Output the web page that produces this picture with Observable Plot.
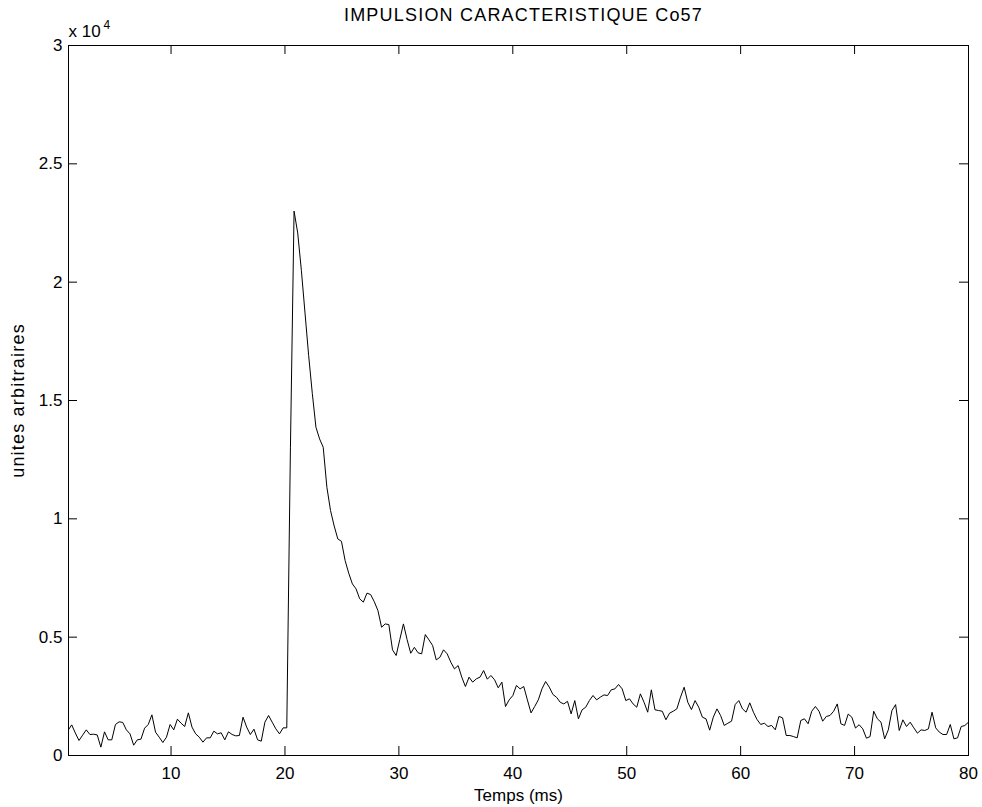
<!DOCTYPE html>
<html><head><meta charset="utf-8">
<script src="https://cdn.jsdelivr.net/npm/d3@7"></script>
<script src="https://cdn.jsdelivr.net/npm/@observablehq/plot@0.6"></script>
<style>
html,body{margin:0;padding:0;background:#fff;}
</style>
</head><body><div id="chart"></div>
<script>
const title = "IMPULSION CARACTERISTIQUE Co57";
const xLabel = "Temps (ms)";
const yLabel = "unites arbitraires";
const yExponentBase = "x 10";
const yExponent = "4";
const xTicks = [10, 20, 30, 40, 50, 60, 70, 80];
const xTickLabels = ["10", "20", "30", "40", "50", "60", "70", "80"];
const yTicks = [0, 5000, 10000, 15000, 20000, 25000, 30000];
const yTickLabels = ["0", "0.5", "1", "1.5", "2", "2.5", "3"];
const sampleStep = 0.32;   // ms between samples
const firstSample = 3;     // index of first listed sample
const counts = [
  1060, 1295, 950, 634, 860, 1084, 887, 900, 870, 352,
  1000, 662, 662, 1310, 1422, 1400, 1084, 915, 436, 662,
  690, 1155, 1310, 1718, 986, 775, 549, 775, 1310, 1084,
  1535, 1366, 1225, 1802, 1200, 915, 775, 563, 746, 746,
  1028, 915, 960, 662, 1000, 887, 830, 845, 1620, 1200,
  887, 1112, 662, 605, 1408, 1690, 1408, 1126, 915, 1168,
  1168,
  13000, 23000, 22080, 20500, 18700, 16900, 15300, 13870, 13376, 13024,
  11334, 10350, 9700, 9150, 9050, 8240, 7700, 7250, 7040, 6620,
  6480, 6860, 6800, 6500, 6125, 5420, 5560, 5530, 4465, 4225,
  4900,
  5560, 4900, 4320, 4570, 4340, 4295, 5110, 4885, 4650, 4040,
  4150, 4465, 4295, 3940, 3660, 3800, 3310, 2915, 3310, 3100,
  3240, 3310, 3590, 3225, 3380, 3200, 2860, 3100, 2070, 2350,
  2530, 2960, 2815, 2915, 2350, 1800, 2070, 2350, 2815, 3125,
  2890, 2580, 2460, 2250,
  2180, 2290, 1760, 2320, 1550, 1930, 2040, 2320, 2535, 2350,
  2465, 2560, 2535, 2775, 2815, 3000, 2815, 2320, 2395, 2180,
  2040, 2605, 2250, 1830, 2775, 1930, 1900, 1870, 1510, 1790,
  1870, 1970, 2465, 2885, 2250, 1940, 2320, 2040, 1620, 1550,
  1070,
  1620, 1970, 1690, 1270, 1365, 1450, 2155, 2320, 1970, 1830,
  2225, 1830, 1520, 1310, 1365, 1225, 1270, 1085, 1650, 1590,
  845, 845, 800, 746, 1480, 1550, 1340, 1870, 2070, 1870,
  1450, 1650, 1690, 1870, 2180, 1340, 1270, 1750, 1620, 1160,
  1300,
  1126, 732, 800, 1870, 1550, 1408, 704, 1084, 1900, 2150,
  1056, 1506, 1225, 1408, 1168, 943, 1084, 1056, 1126, 1830,
  1168, 986, 887, 887, 1310, 704, 746, 1225, 1267, 1408
];
const data = counts.map((v, i) => ({t: (firstSample + i) * sampleStep, v}));

const W = 982, H = 807, mL = 68, mR = 14, mT = 45, mB = 52;
const fw = W - mL - mR, fh = H - mT - mB;
const tick = 9;
const font = "'Liberation Sans', Arial, Helvetica, sans-serif";

const chart = Plot.plot({
  width: W, height: H,
  marginLeft: mL, marginRight: mR, marginTop: mT, marginBottom: mB,
  style: {fontFamily: font, fontSize: "17px", background: "white", color: "black", overflow: "visible"},
  x: {domain: [1, 80], axis: null},
  y: {domain: [0, 30000], axis: null},
  marks: [
    Plot.line(data, {x: "t", y: "v", stroke: "black", strokeWidth: 1, clip: true}),
    Plot.frame({stroke: "black", strokeWidth: 1}),
    Plot.tickX(xTicks, {x: d => d, insetTop: fh - tick, stroke: "black"}),
    Plot.tickX(xTicks, {x: d => d, insetBottom: fh - tick, stroke: "black"}),
    Plot.tickY(yTicks, {y: d => d, insetRight: fw - tick, stroke: "black"}),
    Plot.tickY(yTicks, {y: d => d, insetLeft: fw - tick, stroke: "black"}),
    Plot.text(xTicks, {x: d => d, text: (d, i) => xTickLabels[i], frameAnchor: "bottom", lineAnchor: "top", dy: 11, fill: "black"}),
    Plot.text(yTicks, {y: d => d, text: (d, i) => yTickLabels[i], frameAnchor: "left", textAnchor: "end", dx: -6, fill: "black"}),
    Plot.text([title], {frameAnchor: "top", lineAnchor: "bottom", dy: -25, dx: 5, fontSize: 18, fill: "black"}),
    Plot.text([xLabel], {frameAnchor: "bottom", lineAnchor: "top", dy: 33, fill: "black"}),
    Plot.text([yLabel], {frameAnchor: "left", textAnchor: "middle", dx: -50, rotate: -90, fontSize: 18, fill: "black"}),
    Plot.text([yExponentBase], {frameAnchor: "top-left", textAnchor: "start", lineAnchor: "bottom", dx: 0, dy: -9, fill: "black"}),
    Plot.text([yExponent], {frameAnchor: "top-left", textAnchor: "start", lineAnchor: "bottom", dx: 35, dy: -17, fontSize: 12, fill: "black"})
  ]
});
d3.select(chart).selectAll("text")
  .filter(function() { return this.textContent === title; })
  .style("letter-spacing", "1.2px");
d3.select(chart).selectAll("text")
  .filter(function() { return this.textContent === yLabel; })
  .style("letter-spacing", "1.2px");
document.getElementById("chart").appendChild(chart);
</script>
</body></html>
